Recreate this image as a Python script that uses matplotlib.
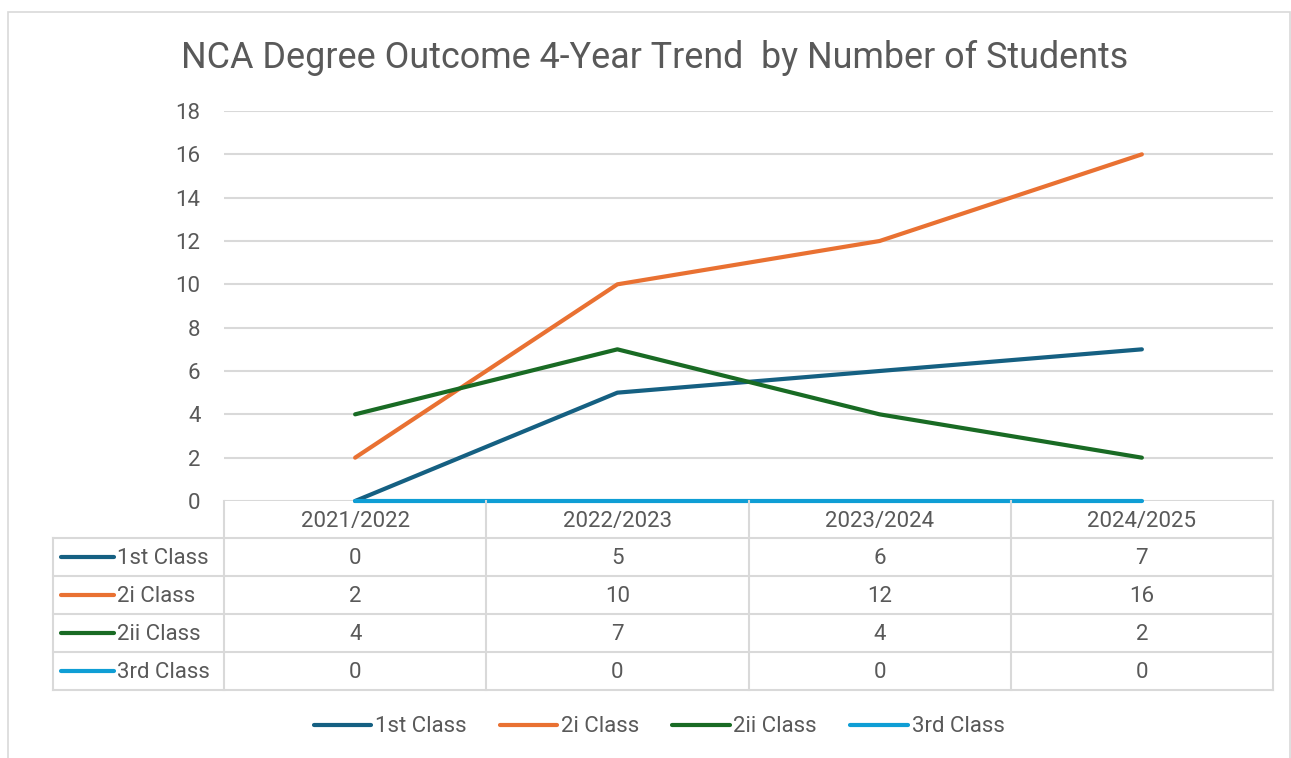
import matplotlib.pyplot as plt
from matplotlib.lines import Line2D
from matplotlib.patches import Rectangle

years = ['2021/2022', '2022/2023', '2023/2024', '2024/2025']
series_names = ['1st Class', '2i Class', '2ii Class', '3rd Class']
first_class = [0, 5, 6, 7]
two_one = [2, 10, 12, 16]
two_two = [4, 7, 4, 2]
third_class = [0, 0, 0, 0]
colors = ['#156082', '#E97132', '#196B24', '#0F9ED5']

W, H = 1291, 758
GRID = '#d9d9d9'
TXT = '#595959'
FS = 16
plt.rcParams['font.family'] = ['Roboto', 'DejaVu Sans']


def fx(x):
    return x / W


def fy(y):
    return 1 - y / H


fig = plt.figure(figsize=(W / 100, H / 100), dpi=100)
fig.add_artist(Rectangle((fx(8), fy(770)), fx(1282), (770 - 12) / H,
                         fill=False, edgecolor=GRID, lw=1.2, transform=fig.transFigure))

left, right, top, bottom = 224, 1273, 111, 501
ax = fig.add_axes([fx(left), fy(bottom), fx(right - left), (bottom - top) / H])

all_series = [first_class, two_one, two_two, third_class]
xs = [i + 0.5 for i in range(len(years))]
for name, vals, c in zip(series_names, all_series, colors):
    ax.plot(xs, vals, color=c, lw=3, label=name, solid_capstyle='round', clip_on=False, zorder=3)

ax.set_xlim(0, len(years))
ax.set_ylim(0, 18)
ax.set_yticks(range(0, 19, 2))
ax.set_xticks([])
ax.tick_params(axis='y', length=0, labelsize=FS, colors=TXT, pad=17)
ax.grid(axis='y', color=GRID, lw=1.5)
ax.set_axisbelow(True)
for s in ax.spines.values():
    s.set_visible(False)

fig.text(fx(655), fy(58), 'NCA Degree Outcome 4-Year Trend  by Number of Students',
         ha='center', va='center', fontsize=25.8, color=TXT)

# data table under the axis
col_edges = [224 + i * (1273 - 224) / 4 for i in range(5)]
row_edges = [501, 538, 576, 614, 652, 690]
lk = dict(color=GRID, lw=1.5, transform=fig.transFigure, zorder=0.5)
for y in row_edges[1:]:
    fig.add_artist(Line2D([fx(53), fx(1273)], [fy(y), fy(y)], **lk))
for x in col_edges:
    fig.add_artist(Line2D([fx(x), fx(x)], [fy(501), fy(690)], **lk))
fig.add_artist(Line2D([fx(53), fx(53)], [fy(538), fy(690)], **lk))

for i, yr in enumerate(years):
    cx = (col_edges[i] + col_edges[i + 1]) / 2
    fig.text(fx(cx), fy(521), yr, ha='center', va='center', fontsize=FS, color=TXT)
    for r, vals in enumerate(all_series):
        cy = (row_edges[r + 1] + row_edges[r + 2]) / 2 + 2
        fig.text(fx(cx), fy(cy), str(vals[i]), ha='center', va='center', fontsize=FS, color=TXT)

for r, (name, c) in enumerate(zip(series_names, colors)):
    cy = (row_edges[r + 1] + row_edges[r + 2]) / 2
    fig.add_artist(Line2D([fx(61), fx(114)], [fy(cy), fy(cy)], color=c, lw=3,
                          solid_capstyle='round', transform=fig.transFigure))
    fig.text(fx(117), fy(cy + 1.5), name, ha='left', va='center', fontsize=FS, color=TXT)

leg = fig.legend(loc='center', bbox_to_anchor=(fx(659), fy(727)), ncol=4, frameon=False,
                 fontsize=FS, handlelength=2.6, handletextpad=0.15, columnspacing=1.5)
for t in leg.get_texts():
    t.set_color(TXT)

fig.savefig('out.png', dpi=100)
